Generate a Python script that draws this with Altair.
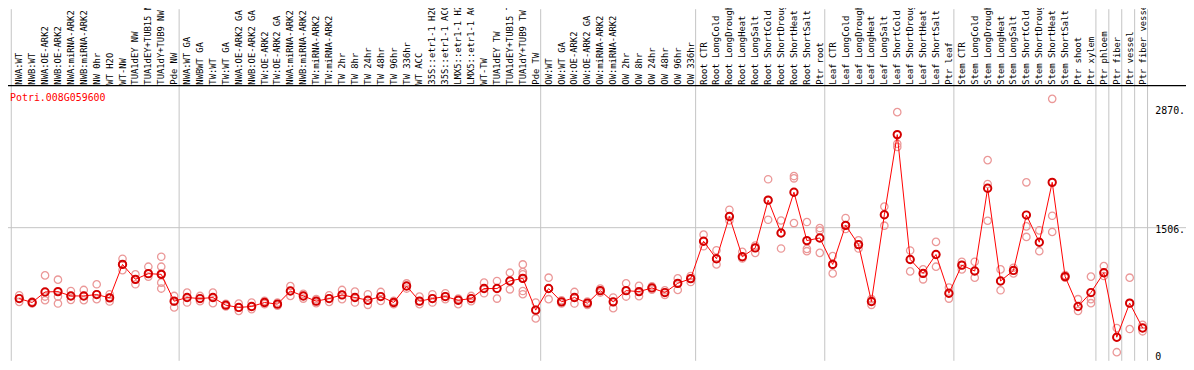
import altair as alt
import pandas as pd

gene = "Potri.008G059600"

labels = [
    "NWA:WT", "NWB:WT", "NWA:OE-ARK2", "NWB:OE-ARK2", "NWA:miRNA-ARK2", "NWB:miRNA-ARK2",
    "NW 0hr", "WT H2O", "WT-NW", "TUA1dEY NW", "TUA1dEY+TUB15 NW", "TUA1dY+TUB9 NW", "Pde NW",
    "NWA:WT GA", "NWBWT GA", "TW:WT", "TW:WT GA", "NWA:OE-ARK2 GA", "NWB:OE-ARK2 GA",
    "TW:OE-ARK2", "TW:OE-ARK2 GA", "NWA:miRNA-ARK2", "NWB:miRNA-ARK2", "TW:miRNA-ARK2",
    "TW:miRNA-ARK2", "TW 2hr", "TW 8hr", "TW 24hr", "TW 48hr", "TW 96hr", "TW 336hr",
    "WT ACC", "35S::etr1-1 H2O", "35S::etr1-1 ACC", "LMX5::etr1-1 H2O", "LMX5::etr1-1 ACC",
    "WT-TW", "TUA1dEY TW", "TUA1dEY+TUB15 TW", "TUA1dY+TUB9 TW", "Pde TW",
    "OW:WT", "OW:WT GA", "OW:OE-ARK2", "OW:OE-ARK2 GA", "OW:miRNA-ARK2", "OW:miRNA-ARK2",
    "OW 2hr", "OW 8hr", "OW 24hr", "OW 48hr", "OW 96hr", "OW 336hr",
    "Root CTR", "Root LongCold", "Root LongDrought", "Root LongHeat", "Root LongSalt",
    "Root ShortCold", "Root ShortDrought", "Root ShortHeat", "Root ShortSalt", "Ptr root",
    "Leaf CTR", "Leaf LongCold", "Leaf LongDrought", "Leaf LongHeat", "Leaf LongSalt",
    "Leaf ShortCold", "Leaf ShortDrought", "Leaf ShortHeat", "Leaf ShortSalt", "Ptr leaf",
    "Stem CTR", "Stem LongCold", "Stem LongDrought", "Stem LongHeat", "Stem LongSalt",
    "Stem ShortCold", "Stem ShortDrought", "Stem ShortHeat", "Stem ShortSalt", "Ptr shoot",
    "Ptr xylem", "Ptr phloem", "Ptr fiber", "Ptr vessel", "Ptr fiber vessel",
]

means = [
    692, 647, 768, 772, 722, 722, 738, 700, 1084, 913, 978, 970, 662,
    704, 692, 704, 616, 590, 601, 647, 628, 779, 722, 662, 692, 734, 704, 673, 715, 647, 836,
    662, 692, 715, 673, 692, 807, 807, 894, 924, 559,
    807, 654, 704, 639, 783, 654, 783, 772, 814, 761, 867, 921,
    1350, 1149, 1635, 1172, 1274, 1822, 1445, 1913, 1358, 1388,
    1084, 1533, 1312, 658, 1654, 2575, 1141, 981, 1198, 753,
    1076, 1008, 1959, 894, 1015, 1651, 1339, 2027, 944, 601,
    761, 989, 248, 639, 354,
]

replicates = [
    [730, 692, 654], [658, 647, 635], [958, 715, 673], [909, 715, 635], [779, 722, 677],
    [791, 722, 673], [856, 742, 685], [742, 704, 658], [1149, 1084, 1019], [970, 913, 856],
    [1058, 978, 944], [1172, 1058, 978, 875, 807], [722, 658, 590],
    [761, 704, 647], [722, 692, 662], [761, 704, 639], [631, 616, 601], [635, 590, 551],
    [647, 601, 571], [665, 647, 628], [647, 628, 609], [836, 779, 722], [746, 722, 692],
    [685, 662, 639], [730, 692, 654], [791, 734, 685], [772, 704, 647], [742, 673, 620],
    [768, 715, 665], [665, 647, 628], [866, 836, 807], [715, 662, 628], [742, 692, 647],
    [753, 715, 685], [692, 673, 628], [722, 692, 662], [875, 807, 753], [894, 807, 692],
    [989, 894, 798], [1084, 996, 970, 924, 779, 742], [647, 559, 464],
    [932, 807, 685], [673, 654, 635], [768, 704, 635], [658, 639, 620], [806, 783, 761],
    [704, 654, 582], [867, 783, 715], [838, 772, 719], [833, 814, 795], [787, 761, 734],
    [924, 867, 791], [951, 921, 882],
    [1426, 1350, 1293], [1247, 1149, 1084], [1712, 1635, 1589], [1229, 1172, 1152],
    [1301, 1274, 1217], [2062, 1822, 1597], [1589, 1445, 1267], [2099, 2073, 1559],
    [1571, 1263, 1236], [1502, 1472, 1217],
    [1179, 1084, 981], [1617, 1533, 1491], [1361, 1312, 1267], [685, 658, 620],
    [1749, 1654, 1529], [2833, 2470, 2434], [1244, 1141, 1004], [1027, 981, 913],
    [1343, 1198, 1058], [818, 753, 692],
    [1115, 1076, 1027], [1115, 1008, 932], [2282, 2008, 1586], [1027, 894, 787],
    [1046, 1015, 981], [2027, 1521, 1400], [1475, 1339, 1236], [2986, 1643, 1457],
    [961, 944, 932], [685, 601, 551],
    [944, 761, 685, 639], [1065, 989, 951], [354, 248, 76], [932, 639, 342], [391, 354, 316],
]

# index of the last sample before each vertical separator (-1 = left frame)
group_breaks = [-1, 12, 40, 52, 62, 72, 83, 84, 85, 86, 87]
grid_values = [1506]
y_ticks = [2870, 1506]
y_tick_labels = ["2870.", "1506."]
y_zero = [0]
y_zero_label = ["0"]

W, H = 1186, 354
FONT = "DejaVu Sans Mono"

df_mean = pd.DataFrame({"idx": list(range(len(means))), "mean": means})
df_lab = pd.DataFrame({"idx": list(range(len(labels))), "label": labels})
df_rep = pd.DataFrame(
    [{"idx": i, "value": v} for i, reps in enumerate(replicates) for v in reps]
)
df_brk = pd.DataFrame({"pos": [b + 0.5 for b in group_breaks]})
df_grid = pd.DataFrame({"g": grid_values})
df_tick = pd.DataFrame({"v": y_ticks, "t": y_tick_labels})
df_zero = pd.DataFrame({"v": y_zero, "t": y_zero_label})
df_gene = pd.DataFrame({"gene": [gene]})

xscale = alt.Scale(domain=[0, len(labels) - 1], range=[11.3, 1142.3], nice=False, zero=False)
yscale = alt.Scale(domain=[0, 2870], range=[352, 100.4], nice=False, zero=False)

seps = alt.Chart(df_brk).mark_rule(color="#c4c4c4", strokeWidth=1, xOffset=-1.5).encode(
    x=alt.X("pos:Q", scale=xscale, axis=None),
    y=alt.value(0),
    y2=alt.value(H),
)

grid = alt.Chart(df_grid).mark_rule(color="#c4c4c4", strokeWidth=1).encode(
    y=alt.Y("g:Q", scale=yscale, axis=None),
    x=alt.value(0),
    x2=alt.value(W),
)

header_line = alt.Chart(df_gene).mark_rule(color="black", strokeWidth=1.2).encode(
    y=alt.value(77),
    x=alt.value(0),
    x2=alt.value(W),
)

lab_text = alt.Chart(df_lab).mark_text(
    angle=270, align="left", baseline="middle", font=FONT, fontSize=8.9, color="black"
).encode(
    x=alt.X("idx:Q", scale=xscale, axis=None),
    y=alt.value(76),
    text="label:N",
)

reps = alt.Chart(df_rep).mark_point(
    shape="circle", filled=False, size=55, color="#eb9898", strokeWidth=1.3, opacity=1
).encode(
    x=alt.X("idx:Q", scale=xscale, axis=None),
    y=alt.Y("value:Q", scale=yscale, axis=None),
)

line = alt.Chart(df_mean).mark_line(color="#ff0000", strokeWidth=1).encode(
    x=alt.X("idx:Q", scale=xscale, axis=None),
    y=alt.Y("mean:Q", scale=yscale, axis=None),
)

mean_pts = alt.Chart(df_mean).mark_point(
    shape="circle", filled=False, size=55, color="#d40000", strokeWidth=2, opacity=1
).encode(
    x=alt.X("idx:Q", scale=xscale, axis=None),
    y=alt.Y("mean:Q", scale=yscale, axis=None),
)

gene_text = alt.Chart(df_gene).mark_text(
    align="left", baseline="middle", font=FONT, fontSize=10, color="#ff0000"
).encode(
    x=alt.value(2),
    y=alt.value(89),
    text="gene:N",
)

tick_text = alt.Chart(df_tick).mark_text(
    align="left", baseline="middle", font=FONT, fontSize=10, color="black", dy=2
).encode(
    x=alt.value(1155),
    y=alt.Y("v:Q", scale=yscale, axis=None),
    text="t:N",
)

zero_text = alt.Chart(df_zero).mark_text(
    align="left", baseline="middle", font=FONT, fontSize=10, color="black", dy=-2
).encode(
    x=alt.value(1155),
    y=alt.Y("v:Q", scale=yscale, axis=None),
    text="t:N",
)

chart = alt.layer(
    seps, grid, header_line, lab_text, reps, line, mean_pts, gene_text, tick_text, zero_text
).properties(
    width=W,
    height=H,
    autosize=alt.AutoSizeParams(type="none"),
    padding=0,
    background="white",
).configure_view(stroke=None)

chart.save("out.html", embed_options={"renderer": "svg", "actions": False})
